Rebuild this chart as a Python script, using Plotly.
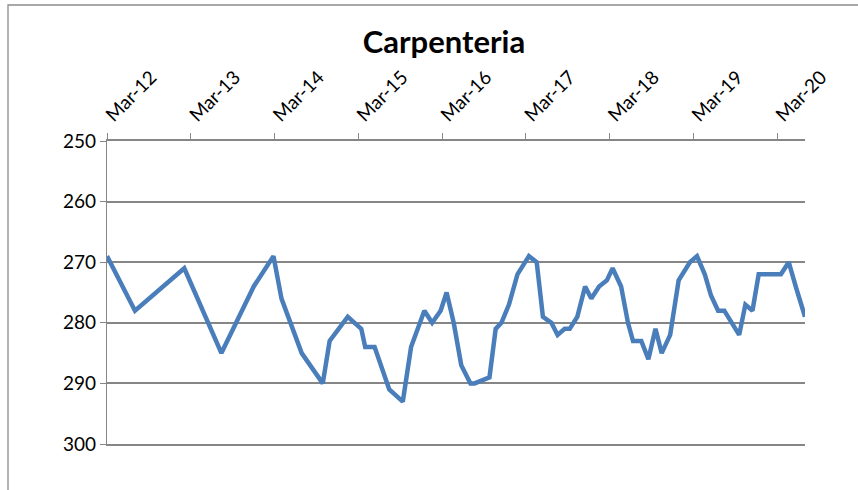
import plotly.graph_objects as go

dates = [
    "2012-03-01", "2012-07-01", "2013-02-01", "2013-07-13", "2013-12-01",
    "2014-02-25", "2014-04-01", "2014-06-28", "2014-09-28", "2014-10-28",
    "2015-01-15", "2015-03-15", "2015-04-01", "2015-05-12", "2015-07-15",
    "2015-09-12", "2015-10-18", "2015-12-15", "2016-01-18", "2016-02-24",
    "2016-03-21", "2016-04-21", "2016-05-24", "2016-07-03", "2016-07-21",
    "2016-09-24", "2016-10-21", "2016-11-15", "2016-12-18", "2017-01-24",
    "2017-03-15", "2017-04-18", "2017-05-15", "2017-06-21", "2017-07-18",
    "2017-08-18", "2017-09-09", "2017-10-12", "2017-11-15", "2017-12-12",
    "2018-01-15", "2018-02-18", "2018-03-15", "2018-04-21", "2018-05-21",
    "2018-06-12", "2018-07-18", "2018-08-18", "2018-09-18", "2018-10-15",
    "2018-11-21", "2018-12-28", "2019-02-15", "2019-03-18", "2019-04-21",
    "2019-05-18", "2019-06-18", "2019-07-15", "2019-09-18", "2019-10-15",
    "2019-11-15", "2019-12-12", "2020-03-18", "2020-04-21", "2020-05-24",
    "2020-07-01",
]
depth = [
    269, 278, 271, 285, 274,
    269, 276, 285, 290, 283,
    279, 281, 284, 284, 291,
    293, 284, 278, 280, 278,
    275, 280, 287, 290, 290,
    289, 281, 280, 277, 272,
    269, 270, 279, 280, 282,
    281, 281, 279, 274, 276,
    274, 273, 271, 274, 280,
    283, 283, 286, 281, 285,
    282, 273, 270, 269, 272,
    275.5, 278, 278, 282, 277,
    278, 272, 272, 270, 274.3,
    279,
]
tick_dates = ["2012-03-01", "2013-03-01", "2014-03-01", "2015-03-01", "2016-03-01",
              "2017-03-01", "2018-03-01", "2019-03-01", "2020-03-01"]
tick_labels = ["Mar-12", "Mar-13", "Mar-14", "Mar-15", "Mar-16",
               "Mar-17", "Mar-18", "Mar-19", "Mar-20"]
y_ticks = [250, 260, 270, 280, 290, 300]

FONT = "Lato"
GRID = "#868686"

fig = go.Figure()
fig.add_trace(go.Scatter(
    x=dates, y=depth, mode="lines",
    line=dict(color="#4a7ebb", width=4.5),
    showlegend=False, hoverinfo="x+y",
))

W, H = 858, 490
ml, mr, mt, mb = 107, 53, 141, 46
pw, ph = W - ml - mr, H - mt - mb

def px2paper_x(px):
    return (px - ml) / pw

def px2paper_y(py):
    return (H - mb - py) / ph

fig.update_layout(
    width=W, height=H,
    margin=dict(l=ml, r=mr, t=mt, b=mb, pad=0),
    paper_bgcolor="white", plot_bgcolor="white",
    title=dict(text="<b>Carpenteria</b>", x=444 / W,
               xanchor="center", y=1 - 42 / H, yanchor="middle",
               font=dict(family=FONT, size=31, color="black")),
    xaxis=dict(
        type="date", side="top",
        range=["2012-03-01", "2020-07-01"],
        tickvals=tick_dates, ticktext=tick_labels, tickangle=-45,
        ticks="outside", ticklen=6, tickcolor=GRID, tickwidth=1.3,
        showgrid=False, showline=True, linecolor=GRID, linewidth=1.6,
        mirror=True, zeroline=False,
        tickfont=dict(family=FONT, size=19, color="black"),
        fixedrange=True,
    ),
    yaxis=dict(
        range=[300, 250], tickvals=y_ticks,
        ticks="outside", ticklen=6, tickcolor=GRID, tickwidth=1.3,
        showgrid=True, gridcolor=GRID, gridwidth=1.6,
        showline=True, linecolor=GRID, linewidth=1.3,
        zeroline=False,
        tickfont=dict(family=FONT, size=19, color="black"),
        fixedrange=True,
    ),
    shapes=[dict(
        type="rect", xref="paper", yref="paper",
        x0=px2paper_x(8), x1=px2paper_x(900),
        y0=px2paper_y(520), y1=px2paper_y(5),
        line=dict(color="#8c8c8c", width=1.3), fillcolor="rgba(0,0,0,0)",
        layer="below",
    )],
)

fig.write_html("out.html", config={"displayModeBar": False},
               post_script="document.body.style.margin='0px';")
